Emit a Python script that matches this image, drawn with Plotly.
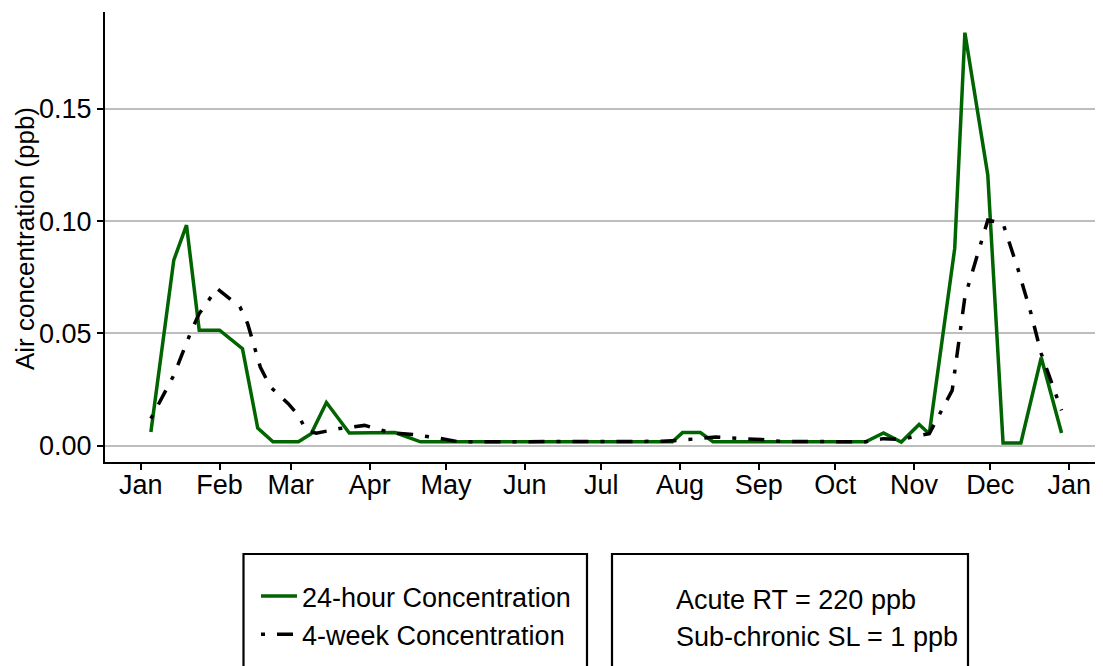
import plotly.graph_objects as go

# 24-hour concentration (ppb)
green_dates = ["2019-01-05", "2019-01-14", "2019-01-19", "2019-01-24", "2019-02-01",
               "2019-02-10", "2019-02-16", "2019-02-22", "2019-03-04", "2019-03-09",
               "2019-03-15", "2019-03-24", "2019-04-11", "2019-04-21", "2019-07-29",
               "2019-08-02", "2019-08-09", "2019-08-14", "2019-10-13", "2019-10-20",
               "2019-10-27", "2019-11-03", "2019-11-07", "2019-11-17", "2019-11-21",
               "2019-11-30", "2019-12-06", "2019-12-13", "2019-12-21", "2019-12-29"]
green_vals = [0.0061, 0.0826, 0.0982, 0.0514, 0.0514,
              0.0432, 0.0078, 0.0017, 0.0017, 0.0053,
              0.0192, 0.0056, 0.0058, 0.0017, 0.0017,
              0.0058, 0.0058, 0.0017, 0.0017, 0.0056,
              0.0016, 0.0094, 0.0053, 0.0878, 0.1839,
              0.1205, 0.0012, 0.0012, 0.0392, 0.0056]

# 4-week concentration (ppb)
black_dates = ["2019-01-05", "2019-01-14", "2019-01-21", "2019-01-24", "2019-01-31",
               "2019-02-09", "2019-02-12", "2019-02-17", "2019-02-21", "2019-02-28",
               "2019-03-04", "2019-03-07", "2019-03-11", "2019-03-20", "2019-03-30",
               "2019-04-09", "2019-04-18", "2019-04-27", "2019-05-06", "2019-07-25",
               "2019-08-01", "2019-08-15", "2019-08-25", "2019-09-02", "2019-09-09",
               "2019-10-13", "2019-10-20", "2019-10-27", "2019-11-01", "2019-11-07",
               "2019-11-16", "2019-11-21", "2019-11-30", "2019-12-06", "2019-12-12",
               "2019-12-17", "2019-12-21", "2019-12-29"]
black_vals = [0.0120, 0.0313, 0.0514, 0.0588, 0.0700,
              0.0618, 0.0544, 0.0350, 0.0261, 0.0187,
              0.0135, 0.0068, 0.0055, 0.0076, 0.0090,
              0.0058, 0.0049, 0.0036, 0.0017, 0.0019,
              0.0024, 0.0038, 0.0031, 0.0027, 0.0019,
              0.0017, 0.0031, 0.0027, 0.0041, 0.0053,
              0.0246, 0.0662, 0.1004, 0.0989, 0.0781,
              0.0588, 0.0410, 0.0157]

series_names = ["24-hour Concentration", "4-week Concentration"]
info_lines = ["Acute RT = 220 ppb", "Sub-chronic SL = 1 ppb"]
y_title = "Air concentration (ppb)"

FONT = "Arial, Liberation Sans, sans-serif"
FS = 27
OFF = 8  # page body margin offset
W, H = 1103, 666
# desired on-screen plot box: x 105..1103+, y 12..462
L, T = 105 - OFF, 12 - OFF
R = W - (1103 - OFF)
B = H - (462 - OFF)
PW, PH = W - L - R, H - T - B


def px(xs):
    return (xs - OFF - L) / PW


def py(ys):
    return (H - B - (ys - OFF)) / PH


fig = go.Figure()
fig.add_trace(go.Scatter(x=green_dates, y=green_vals, mode="lines", name=series_names[0],
                         legendgroup="a",
                         line=dict(color="#006400", width=3.5)))
fig.add_trace(go.Scatter(x=black_dates, y=black_vals, mode="lines", name=series_names[1],
                         legendgroup="b",
                         line=dict(color="black", width=3.5, dash="4px,12px,16px,12px")))

shapes = [
    dict(type="rect", xref="paper", yref="paper", x0=px(243.5), x1=px(587), y0=py(554), y1=py(720),
         line=dict(color="black", width=2.2), fillcolor="rgba(0,0,0,0)"),
    dict(type="rect", xref="paper", yref="paper", x0=px(612), x1=px(968), y0=py(554), y1=py(720),
         line=dict(color="black", width=2.2), fillcolor="rgba(0,0,0,0)"),
]

annotations = [
    dict(text=info_lines[0], xref="paper", yref="paper", x=px(674), y=py(600),
         xanchor="left", yanchor="middle", showarrow=False,
         font=dict(family=FONT, size=FS, color="black")),
    dict(text=info_lines[1], xref="paper", yref="paper", x=px(674), y=py(637),
         xanchor="left", yanchor="middle", showarrow=False,
         font=dict(family=FONT, size=FS, color="black")),
    dict(text=y_title, xref="paper", yref="paper", x=px(25), y=py(239),
         xanchor="center", yanchor="middle", textangle=-90, showarrow=False,
         borderpad=0,
         font=dict(family=FONT, size=26, color="black")),
]

fig.update_layout(
    width=W, height=H,
    margin=dict(l=L, r=R, t=T, b=B, autoexpand=False),
    paper_bgcolor="white", plot_bgcolor="white",
    font=dict(family=FONT, size=FS, color="black"),
    showlegend=True,
    legend=dict(x=px(256), y=py(572), xanchor="left", yanchor="top",
                bgcolor="rgba(0,0,0,0)", borderwidth=0, tracegroupgap=0,
                font=dict(family=FONT, size=FS, color="black"), itemwidth=36),
    shapes=shapes,
    annotations=annotations,
    xaxis=dict(type="date", range=["2018-12-17 23:00", "2020-01-14 07:00"],
               tick0="2019-01-01", dtick="M1", tickformat="%b",
               ticks="outside", ticklen=6, tickwidth=1.5, tickcolor="black",
               showline=True, linecolor="black", linewidth=2,
               showgrid=False, zeroline=False, automargin=False,
               ticklabelstandoff=-8,
               tickfont=dict(family=FONT, size=FS, color="black")),
    yaxis=dict(range=[-0.0073, 0.1931], tick0=0, dtick=0.05, tickformat=".2f",
               ticks="outside", ticklen=6, tickwidth=1.5, tickcolor="black",
               showline=True, linecolor="black", linewidth=2,
               showgrid=True, gridcolor="#BEBEBE", gridwidth=1.5, zeroline=False,
               automargin=False, ticklabelstandoff=0,
               tickfont=dict(family=FONT, size=FS, color="black")),
)

fig.write_html("out.html")
